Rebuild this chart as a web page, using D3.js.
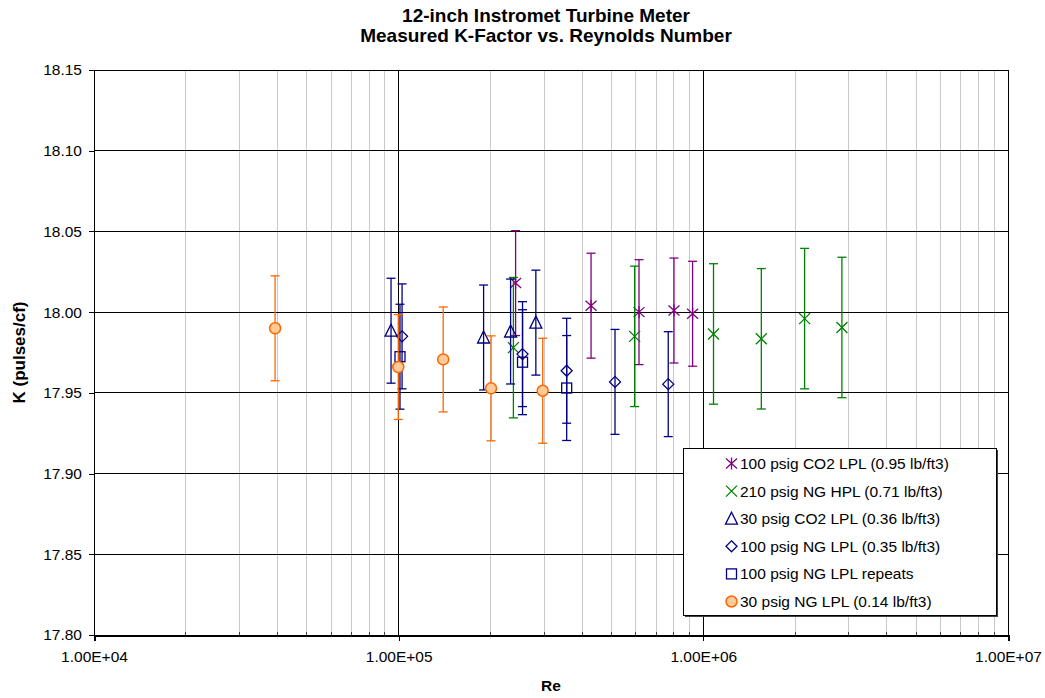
<!DOCTYPE html>
<html>
<head>
<meta charset="utf-8">
<script src="https://cdn.jsdelivr.net/npm/d3@7"></script>
<style>
  body { margin: 0; background: #fff; }
  text { font-family: "Liberation Sans", Arial, sans-serif; }
</style>
</head>
<body>
<div id="chart"></div>
<script>
// values
const yTicks = [17.80, 17.85, 17.90, 17.95, 18.00, 18.05, 18.10, 18.15];
const xDecades = [1e4, 1e5, 1e6, 1e7];

const co2_100_re = [2.42e5, 4.28e5, 6.15e5, 8.01e5, 9.22e5];
const co2_100_k  = [18.018, 18.004, 18.000, 18.001, 17.999];

const ng_210_re = [2.38e5, 5.95e5, 1.08e6, 1.55e6, 2.15e6, 2.85e6];
const ng_210_k  = [17.978, 17.985, 17.9865, 17.9835, 17.996, 17.9905];

const co2_30_re = [9.44e4, 1.9e5, 2.33e5, 2.82e5];
const co2_30_k  = [17.9885, 17.9843, 17.988, 17.9935];

const ng_100_re = [1.026e5, 2.55e5, 3.56e5, 5.13e5, 7.67e5];
const ng_100_k  = [17.985, 17.974, 17.9637, 17.9568, 17.9554];

const ng_100rep_re = [1.01e5, 2.55e5, 3.56e5];
const ng_100rep_k  = [17.9724, 17.969, 17.953];

const ng_30_re = [3.93e4, 9.97e4, 1.40e5, 2.01e5, 2.97e5];
const ng_30_k  = [17.990, 17.966, 17.9707, 17.9528, 17.9513];

const errSmall = 0.0325;
const errBig = 0.0435;

const series = [
  { name: "100 psig CO2 LPL (0.95 lb/ft3)", re: co2_100_re, k: co2_100_k, err: errSmall, color: "#800080", shape: "star" },
  { name: "210 psig NG HPL (0.71 lb/ft3)", re: ng_210_re, k: ng_210_k, err: errBig, color: "#008000", shape: "x" },
  { name: "30 psig CO2 LPL (0.36 lb/ft3)", re: co2_30_re, k: co2_30_k, err: errSmall, color: "#000080", shape: "triangle" },
  { name: "100 psig NG LPL (0.35 lb/ft3)", re: ng_100_re, k: ng_100_k, err: errSmall, color: "#000080", shape: "diamond" },
  { name: "100 psig NG LPL repeats", re: ng_100rep_re, k: ng_100rep_k, err: errSmall, color: "#000080", shape: "square" },
  { name: "30 psig NG LPL (0.14 lb/ft3)", re: ng_30_re, k: ng_30_k, err: errSmall, color: "#FF6600", shape: "circle" }
];

const W = 1045, H = 698;
const margin = { top: 70, right: 37, bottom: 63, left: 94 };
const width = W - margin.left - margin.right,
      height = H - margin.top - margin.bottom;

const svg = d3.select("#chart").append("svg")
  .attr("width", W).attr("height", H);

const g = svg.append("g").attr("transform", `translate(${margin.left},${margin.top})`);

const x = d3.scaleLog().domain([1e4, 1e7]).range([0, width]);
const y = d3.scaleLinear().domain([17.80, 18.15]).range([height, 0]);

// minor vertical grid
const minors = [];
for (let d = 1e4; d < 1e7; d *= 10) for (let m = 2; m <= 9; m++) minors.push(d * m);
g.selectAll(".minor").data(minors).join("line")
  .attr("x1", d => x(d)).attr("x2", d => x(d))
  .attr("y1", 0).attr("y2", height)
  .attr("stroke", "#c8c8c8").attr("stroke-width", 1)
  .attr("shape-rendering", "crispEdges");
// small inside minor ticks on the x axis
g.selectAll(".minortick").data(minors).join("line")
  .attr("x1", d => x(d)).attr("x2", d => x(d))
  .attr("y1", height - 3).attr("y2", height)
  .attr("stroke", "#404040").attr("stroke-width", 1)
  .attr("shape-rendering", "crispEdges");

// major grid
g.selectAll(".hgrid").data(yTicks).join("line")
  .attr("x1", 0).attr("x2", width)
  .attr("y1", d => y(d)).attr("y2", d => y(d))
  .attr("stroke", "#000").attr("stroke-width", 1)
  .attr("shape-rendering", "crispEdges");
g.selectAll(".vgrid").data(xDecades).join("line")
  .attr("x1", d => x(d)).attr("x2", d => x(d))
  .attr("y1", 0).attr("y2", height)
  .attr("stroke", "#000").attr("stroke-width", 1)
  .attr("shape-rendering", "crispEdges");

// axes
const yAxis = g.append("g")
  .call(d3.axisLeft(y).tickValues(yTicks).tickFormat(d3.format(".2f")).tickSize(5).tickPadding(7));
const xAxis = g.append("g").attr("transform", `translate(0,${height})`)
  .call(d3.axisBottom(x).tickValues(xDecades).tickFormat(d => d.toExponential(2).toUpperCase().replace("E+", "E+0")).tickSize(6).tickPadding(10));
[yAxis, xAxis].forEach(a => {
  a.selectAll("text").style("font-size", "15.5px").attr("fill", "#000")
    .style("font-family", "'Liberation Sans', Arial, sans-serif");
  a.selectAll("line,path").attr("stroke", "#000").attr("shape-rendering", "crispEdges");
});
xAxis.select(".domain").attr("stroke-width", 2);

// error bars + markers
function marker(sel, shape, color) {
  if (shape === "circle") {
    sel.append("circle").attr("r", 5.5).attr("fill", "#FFCC99").attr("stroke", color).attr("stroke-width", 1.5);
  } else if (shape === "triangle") {
    sel.append("path").attr("d", "M0,-6.5L6,5.5L-6,5.5Z").attr("fill", "none").attr("stroke", color).attr("stroke-width", 1.3);
  } else if (shape === "diamond") {
    sel.append("path").attr("d", "M0,-5.5L5.5,0L0,5.5L-5.5,0Z").attr("fill", "none").attr("stroke", color).attr("stroke-width", 1.3);
  } else if (shape === "square") {
    sel.append("rect").attr("x", -5).attr("y", -5).attr("width", 10).attr("height", 10)
      .attr("fill", "none").attr("stroke", color).attr("stroke-width", 1.3);
  } else if (shape === "x") {
    sel.append("path").attr("d", "M-5.5,-5.5L5.5,5.5M-5.5,5.5L5.5,-5.5").attr("stroke", color).attr("stroke-width", 1.3);
  } else if (shape === "star") {
    sel.append("path").attr("d", "M-5.5,-5L5.5,5M-5.5,5L5.5,-5M0,-6L0,6").attr("stroke", color).attr("stroke-width", 1.3);
  }
}

series.forEach(s => {
  const pts = s.re.map((r, i) => ({ re: r, k: s.k[i] }));
  const eb = g.append("g");
  pts.forEach(p => {
    const cx = x(p.re), y1 = y(p.k + s.err), y2 = y(p.k - s.err);
    eb.append("line").attr("x1", cx).attr("x2", cx).attr("y1", y1).attr("y2", y2)
      .attr("stroke", s.color).attr("stroke-width", 1.3);
    [y1, y2].forEach(yy => eb.append("line").attr("x1", cx - 4.5).attr("x2", cx + 4.5)
      .attr("y1", yy).attr("y2", yy).attr("stroke", s.color).attr("stroke-width", 1.3));
  });
  const m = g.append("g").selectAll("g").data(pts).join("g")
    .attr("transform", d => `translate(${x(d.re)},${y(d.k)})`);
  marker(m, s.shape, s.color);
});

// legend
const lx = 683, ly = 448, lw = 313, lh = 167;
svg.append("rect").attr("x", lx + 2).attr("y", ly + 2).attr("width", lw).attr("height", lh).attr("fill", "#404040");
svg.append("rect").attr("x", lx).attr("y", ly).attr("width", lw).attr("height", lh)
  .attr("fill", "#fff").attr("stroke", "#000").attr("stroke-width", 1).attr("shape-rendering", "crispEdges");
series.forEach((s, i) => {
  const yy = ly + 15.5 + i * 27.6;
  const mg = svg.append("g").attr("transform", `translate(${lx + 48.5},${yy})`);
  marker(mg, s.shape, s.color);
  svg.append("text").attr("x", lx + 57).attr("y", yy).attr("dy", "0.36em")
    .style("font-size", "15.5px").text(s.name);
});

// titles
svg.append("text").attr("x", 546).attr("y", 22).attr("text-anchor", "middle")
  .style("font-size", "19px").style("font-weight", "bold").text("12-inch Instromet Turbine Meter");
svg.append("text").attr("x", 546).attr("y", 42).attr("text-anchor", "middle")
  .style("font-size", "19px").style("font-weight", "bold").text("Measured K-Factor vs. Reynolds Number");
svg.append("text").attr("x", 551).attr("y", 691).attr("text-anchor", "middle")
  .style("font-size", "15.5px").style("font-weight", "bold").text("Re");
svg.append("text").attr("transform", `translate(25,${margin.top + height / 2}) rotate(-90)`)
  .attr("text-anchor", "middle")
  .style("font-size", "17px").style("font-weight", "bold").text("K (pulses/cf)");
</script>
</body>
</html>
